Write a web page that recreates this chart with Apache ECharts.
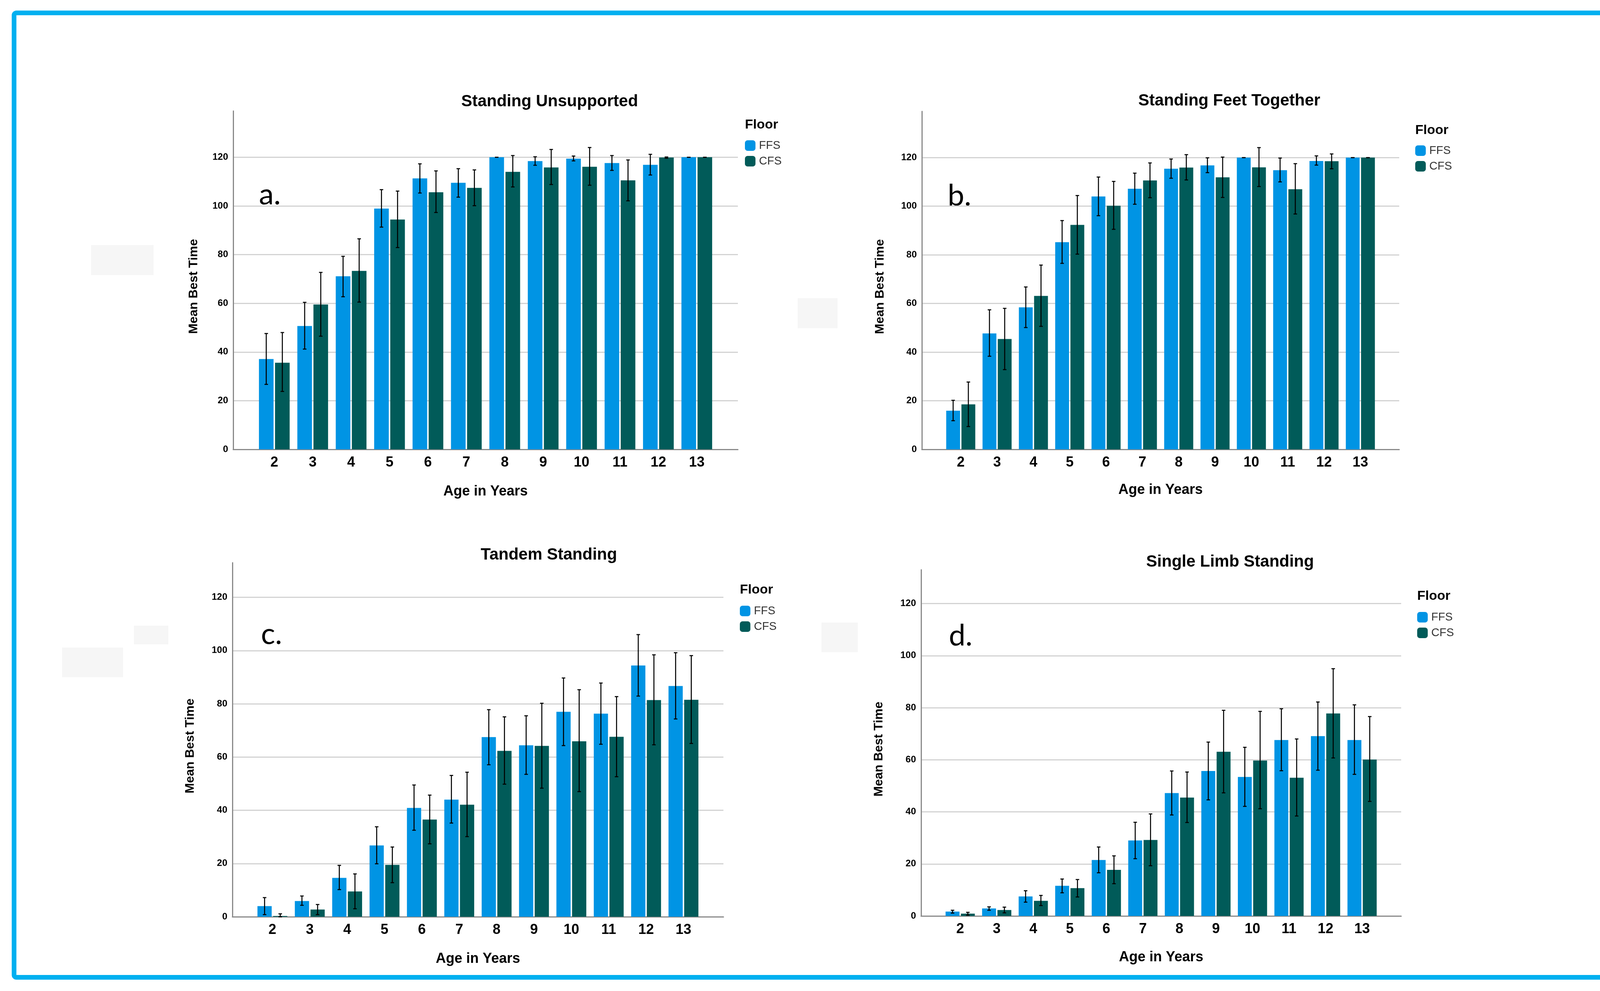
<!DOCTYPE html>
<html><head><meta charset="utf-8">
<script src="https://cdn.jsdelivr.net/npm/echarts@6/dist/echarts.min.js"></script>
<style>html,body{margin:0;padding:0;background:#fff}#c{width:4443px;height:2536px}</style>
</head><body><div id="c"></div>
<script>
// ---- data ----
const ages = [2, 3, 4, 5, 6, 7, 8, 9, 10, 11, 12, 13];
const seriesNames = ['FFS', 'CFS'];
const panelTitles = ['Standing Unsupported', 'Standing Feet Together', 'Tandem Standing', 'Single Limb Standing'];
const panelLetters = ['a.', 'b.', 'c.', 'd.'];
const yTitle = 'Mean Best Time';
const xTitle = 'Age in Years';
const legendTitle = 'Floor';

// a. Standing Unsupported
const suFFS   = [37.1, 50.7, 71.1, 98.9, 111.3, 109.5, 120, 118.4, 119.4, 117.6, 116.9, 120];
const suFFSlo = [26.7, 41.2, 62.7, 91.3, 105.3, 103.6, 120, 116.7, 118.5, 114.6, 112.7, 120];
const suFFShi = [47.6, 60.4, 79.3, 106.7, 117.3, 115.3, 120, 120.2, 120.5, 120.7, 121.2, 120];
const suCFS   = [35.6, 59.5, 73.3, 94.4, 105.6, 107.4, 114.0, 115.8, 116.1, 110.5, 119.9, 120];
const suCFSlo = [23.8, 46.5, 60.5, 82.9, 97.3, 100.1, 107.8, 108.8, 108.5, 102.1, 119.6, 120];
const suCFShi = [48.0, 72.7, 86.5, 106.1, 114.4, 114.8, 120.7, 123.2, 124.0, 118.9, 120.1, 120];

// b. Standing Feet Together
const ftFFS   = [15.9, 47.7, 58.4, 85.2, 104.0, 107.2, 115.4, 116.8, 120, 114.8, 118.6, 120];
const ftFFSlo = [11.8, 38.3, 50.1, 76.5, 96.1, 100.8, 111.5, 113.8, 120, 110.0, 116.9, 120];
const ftFFShi = [20.2, 57.4, 66.8, 94.1, 112.0, 113.6, 119.4, 119.9, 120, 119.8, 120.7, 120];
const ftCFS   = [18.5, 45.4, 63.1, 92.3, 100.2, 110.6, 115.9, 111.9, 116.0, 107.0, 118.5, 120];
const ftCFSlo = [9.4, 32.8, 50.6, 80.3, 90.5, 103.5, 110.8, 103.6, 108.1, 96.8, 115.4, 120];
const ftCFShi = [27.7, 58.0, 75.8, 104.4, 110.2, 117.8, 121.2, 120.2, 124.1, 117.5, 121.5, 120];

// c. Tandem Standing
const tsFFS   = [4.0, 5.9, 14.6, 26.8, 40.9, 44.0, 67.5, 64.4, 77.0, 76.3, 94.4, 86.7];
const tsFFSlo = [0.8, 4.3, 10.2, 19.9, 32.5, 35.2, 57.1, 53.5, 64.3, 64.8, 82.9, 74.3];
const tsFFShi = [7.2, 7.8, 19.3, 33.8, 49.5, 53.1, 77.8, 75.5, 89.7, 87.8, 106.0, 99.2];
const tsCFS   = [0.3, 2.7, 9.5, 19.5, 36.5, 42.1, 62.3, 64.2, 65.9, 67.6, 81.4, 81.5];
const tsCFSlo = [0.0, 0.8, 3.0, 12.8, 27.4, 30.1, 49.8, 48.3, 47.0, 52.6, 64.6, 65.1];
const tsCFShi = [1.1, 4.6, 16.1, 26.2, 45.7, 54.3, 75.1, 80.2, 85.3, 82.7, 98.4, 98.1];

// d. Single Limb Standing
const slFFS   = [1.7, 2.9, 7.5, 11.6, 21.5, 29.0, 47.2, 55.7, 53.4, 67.6, 69.1, 67.6];
const slFFSlo = [1.1, 2.2, 5.3, 8.9, 16.6, 22.0, 38.8, 44.6, 42.1, 55.8, 56.0, 54.4];
const slFFShi = [2.2, 3.5, 9.7, 14.2, 26.5, 36.0, 55.7, 66.8, 64.8, 79.6, 82.2, 81.1];
const slCFS   = [0.9, 2.3, 5.8, 10.7, 17.7, 29.2, 45.5, 63.1, 59.7, 53.1, 77.8, 60.1];
const slCFSlo = [0.3, 1.2, 4.0, 7.3, 12.4, 19.3, 35.9, 47.3, 41.2, 38.4, 60.7, 44.0];
const slCFShi = [1.4, 3.4, 7.9, 14.0, 23.1, 39.2, 55.3, 79.0, 78.6, 68.0, 95.0, 76.6];

const yMaxes = [139, 139, 133, 133];

// ---- styles / layout ----
const FONT = "'Liberation Sans', Arial, sans-serif";
const COLORS = ['#0094E4', '#015B59'];
const CAT_GAP = 0.20, BAR_GAP = 0.10;
const X_MIN = 0.93, X_MAX = 14.07;

const layout = [
  { grid: {left: 597, top: 284, width: 1292, height: 866}, title: [1407, 260], letter: [663, 498], floor: [1907, 320], legend: [1907, 358], yGap: 85, xGap: 90 },
  { grid: {left: 2360, top: 285, width: 1222, height: 865}, title: [3147, 258], letter: [2426, 501], floor: [3623, 334], legend: [3623, 371], yGap: 91, xGap: 86 },
  { grid: {left: 595, top: 1440, width: 1257, height: 906}, title: [1405, 1420], letter: [668, 1623], floor: [1894, 1510], legend: [1894, 1549], yGap: 92, xGap: 90 },
  { grid: {left: 2358, top: 1458, width: 1229, height: 886}, title: [3149, 1438], letter: [2429, 1627], floor: [3628, 1526], legend: [3628, 1565], yGap: 92, xGap: 88 }
];

const panelData = [
  [[suFFS, suFFSlo, suFFShi], [suCFS, suCFSlo, suCFShi]],
  [[ftFFS, ftFFSlo, ftFFShi], [ftCFS, ftCFSlo, ftCFShi]],
  [[tsFFS, tsFFSlo, tsFFShi], [tsCFS, tsCFSlo, tsCFShi]],
  [[slFFS, slFFSlo, slFFShi], [slCFS, slCFSlo, slCFShi]]
];

function errRender(side) {
  return function (params, api) {
    const x = api.value(0), lo = api.value(1), hi = api.value(2);
    const band = api.size([1, 0])[0];
    const barW = band * (1 - CAT_GAP) / (2 + BAR_GAP);
    const off = side * (barW * (1 + BAR_GAP)) / 2;
    const pLo = api.coord([x, lo]);
    const pHi = api.coord([x, hi]);
    const cx = pLo[0] + off;
    const cap = 4.5;
    const st = {stroke: '#000', lineWidth: 2.6};
    return {
      type: 'group',
      children: [
        {type: 'line', shape: {x1: cx, y1: pHi[1], x2: cx, y2: pLo[1]}, style: st},
        {type: 'line', shape: {x1: cx - cap, y1: pHi[1], x2: cx + cap, y2: pHi[1]}, style: st},
        {type: 'line', shape: {x1: cx - cap, y1: pLo[1], x2: cx + cap, y2: pLo[1]}, style: st}
      ]
    };
  };
}

const grids = [], xAxes = [], yAxes = [], series = [], legends = [], graphics = [];

layout.forEach((L, p) => {
  grids.push(Object.assign({containLabel: false, outerBoundsMode: 'none'}, L.grid));
  xAxes.push({
    type: 'value', gridIndex: p, min: X_MIN, max: X_MAX,
    name: xTitle, nameLocation: 'middle', nameGap: L.xGap,
    nameTextStyle: {fontFamily: FONT, fontSize: 36, fontWeight: 'bold', color: '#000'},
    axisLine: {show: true, lineStyle: {color: '#8a8a8a', width: 3}},
    axisTick: {show: false},
    splitLine: {show: false},
    axisLabel: {customValues: ages, margin: 16, fontFamily: FONT, fontSize: 36, fontWeight: 'bold', color: '#000'}
  });
  yAxes.push({
    type: 'value', gridIndex: p, min: 0, max: yMaxes[p], interval: 20,
    name: yTitle, nameLocation: 'middle', nameGap: L.yGap,
    nameTextStyle: {fontFamily: FONT, fontSize: 32, fontWeight: 'bold', color: '#000', padding: [0, 32, 0, 0]},
    axisLine: {show: true, lineStyle: {color: '#8a8a8a', width: 3}},
    axisTick: {show: false},
    splitLine: {show: true, showMaxLine: false, lineStyle: {color: ['#d3d3d3','#d3d3d3','#d3d3d3','#d3d3d3','#d3d3d3','#d3d3d3','#d3d3d3','rgba(0,0,0,0)'], width: 3}},
    axisLabel: {showMaxLabel: false, margin: 13, padding: [12, 0, 0, 0], fontFamily: FONT, fontSize: 24, fontWeight: 'bold', color: '#000',
      formatter: v => (v % 20 === 0 ? String(v) : '')}
  });
  panelData[p].forEach((d, s) => {
    series.push({
      name: seriesNames[s], type: 'bar', xAxisIndex: p, yAxisIndex: p,
      barCategoryGap: (CAT_GAP * 100) + '%', barGap: (BAR_GAP * 100) + '%',
      itemStyle: {color: COLORS[s]},
      data: ages.map((a, i) => [a, d[0][i]]),
      z: 2
    });
  });
  panelData[p].forEach((d, s) => {
    series.push({
      name: 'err' + s, type: 'custom', xAxisIndex: p, yAxisIndex: p,
      renderItem: errRender(s === 0 ? -1 : 1),
      encode: {x: 0, y: [1, 2]},
      data: ages.map((a, i) => [a, d[1][i], d[2][i]]),
      z: 5, silent: true
    });
  });
  legends.push({
    data: seriesNames, orient: 'vertical', left: L.legend[0], top: L.legend[1], padding: 0,
    icon: 'roundRect', itemWidth: 27, itemHeight: 27, itemGap: 11,
    textStyle: {fontFamily: FONT, fontSize: 29, color: '#333', lineHeight: 27, padding: [0, 0, 0, 4]}
  });
  graphics.push({type: 'text', silent: true, style: {text: panelTitles[p], x: L.title[0], y: L.title[1],
    font: 'bold 42px ' + FONT, fill: '#000', textAlign: 'center', textVerticalAlign: 'middle', align: 'center', verticalAlign: 'middle'}});
  graphics.push({type: 'text', silent: true, style: {text: legendTitle, x: L.floor[0], y: L.floor[1],
    font: 'bold 34px ' + FONT, fill: '#000', textAlign: 'left', textVerticalAlign: 'middle', align: 'left', verticalAlign: 'middle'}});
  graphics.push({type: 'text', silent: true, style: {text: panelLetters[p], x: L.letter[0], y: L.letter[1],
    font: "76px Lato, 'Open Sans', sans-serif", fill: '#000', textAlign: 'left', textVerticalAlign: 'middle', align: 'left', verticalAlign: 'middle'}});
});

// faint grey patches present in the original figure
[[233, 627, 160, 77], [2042, 763, 102, 77], [159, 1657, 156, 76], [343, 1601, 88, 48], [2103, 1593, 93, 76]].forEach(r => {
  graphics.push({type: 'rect', silent: true, z: -1, shape: {x: r[0], y: r[1], width: r[2], height: r[3]}, style: {fill: '#f6f6f6'}});
});
// outer frame
graphics.push({type: 'rect', silent: true, z: 10, shape: {x: 36, y: 33, width: 4371, height: 2468, r: 6},
  style: {fill: 'none', stroke: '#00B0F0', lineWidth: 12}});

const chart = echarts.init(document.getElementById('c'), null, {renderer: 'canvas'});
chart.setOption({
  animation: false,
  backgroundColor: '#ffffff',
  grid: grids, xAxis: xAxes, yAxis: yAxes, series: series, legend: legends,
  graphic: {elements: graphics}
});
</script></body></html>
